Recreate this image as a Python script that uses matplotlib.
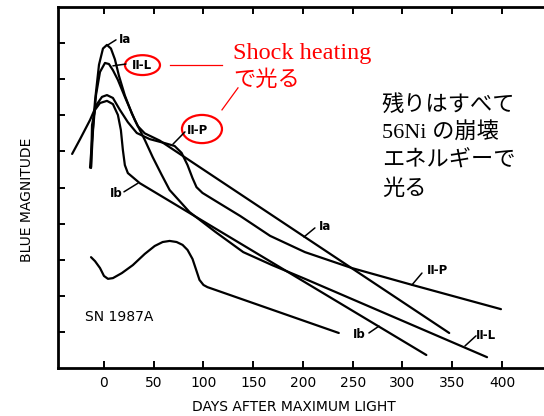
import matplotlib
matplotlib.use("Agg")
import matplotlib.pyplot as plt
from matplotlib.patches import Ellipse

# schematic blue light curves: days after maximum vs magnitude (1 mag per tick)
ia_days = [-14, -12, -9, -5, -1, 3, 7, 11, 15, 21, 28, 34, 41, 56, 347]
ia_mag = [4.45, 3.7, 2.6, 1.6, 1.15, 1.05, 1.15, 1.45, 1.9, 2.45, 2.95, 3.3, 3.5, 3.7, 9.03]

iil_days = [-13, -11, -8, -4, 1, 5, 9, 14, 21, 31, 41, 49, 58, 66, 86, 112, 140, 169, 202, 385]
iil_mag = [4.43, 3.41, 2.44, 1.8, 1.55, 1.58, 1.75, 2.02, 2.49, 3.13, 3.68, 4.16, 4.65, 5.07,
           5.68, 6.23, 6.79, 7.15, 7.53, 9.7]

ib_days = [-13, -12, -9, -4, 3, 9, 14, 17, 19, 21, 24, 30, 36, 324]
ib_mag = [4.46, 3.27, 2.85, 2.66, 2.6, 2.69, 2.99, 3.41, 3.96, 4.38, 4.6, 4.74, 4.88, 9.64]

iip_days = [-32, -24, -14, -7, -2, 3, 9, 16, 24, 33, 46, 61, 71, 78, 84, 89, 93, 99, 112,
            137, 167, 202, 249, 310, 399]
iip_mag = [4.07, 3.66, 3.13, 2.69, 2.49, 2.44, 2.52, 2.85, 3.19, 3.49, 3.66, 3.77, 3.85, 4.04,
           4.38, 4.74, 4.99, 5.15, 5.37, 5.79, 6.34, 6.79, 7.23, 7.7, 8.37]

sn87a_days = [-13, -9, -4, 0, 4, 9, 18, 29, 41, 51, 59, 66, 73, 79, 84, 89, 93, 96, 100, 104, 236]
sn87a_mag = [6.93, 7.04, 7.23, 7.45, 7.53, 7.51, 7.37, 7.15, 6.84, 6.62, 6.51, 6.48, 6.51, 6.59,
             6.73, 6.98, 7.31, 7.56, 7.7, 7.76, 9.03]

day_ticks = [0, 50, 100, 150, 200, 250, 300, 350, 400]
mag_ticks = [1, 2, 3, 4, 5, 6, 7, 8, 9]

fig = plt.figure(figsize=(5.44, 4.16), dpi=100)
ax = fig.add_axes([58 / 544, 48 / 416, 494 / 544, 361 / 416])

for d, m in [(ia_days, ia_mag), (iil_days, iil_mag), (ib_days, ib_mag),
             (iip_days, iip_mag), (sn87a_days, sn87a_mag)]:
    ax.plot(d, m, color="black", lw=1.6, solid_joinstyle="round", solid_capstyle="round")

ax.set_xlim(-46.2, 450.3)
ax.set_ylim(10, 0)
ax.set_xticks(day_ticks)
ax.set_xticklabels([str(t) for t in day_ticks], fontsize=10)
ax.set_yticks(mag_ticks)
ax.set_yticklabels([])
ax.tick_params(direction="in", length=5, width=1.4, top=True, labeltop=False, pad=6)
ax.spines["right"].set_visible(False)
for s in ["left", "bottom", "top"]:
    ax.spines[s].set_linewidth(2.0)

fig.text(294 / 544, 1 - 407 / 416, "DAYS AFTER MAXIMUM LIGHT", ha="center", va="center",
         fontsize=10)
fig.text(27 / 544, 1 - 200 / 416, "BLUE MAGNITUDE", ha="center", va="center",
         rotation=90, fontsize=10)

# curve labels with short leader lines
lead = dict(arrowstyle="-", color="black", lw=1.1, shrinkA=0, shrinkB=0)
labels = [
    ("Ia", (4.0, 1.05), (14.5, 0.91), "left"),
    ("Ⅱ-L", (9.0, 1.63), (38.2, 1.61), "center"),
    ("Ⅱ-P", (69.3, 3.8), (94.5, 3.41), "center"),
    ("Ib", (34.2, 4.88), (12.1, 5.18), "center"),
    ("Ia", (201, 6.37), (222, 6.07), "center"),
    ("Ⅱ-P", (309.5, 7.7), (335.7, 7.31), "center"),
    ("Ib", (276.4, 8.84), (256.3, 9.06), "center"),
    ("Ⅱ-L", (362.8, 9.39), (383.9, 9.09), "center"),
]
ends = [(12.1, 0.91), (22.1, 1.58), (81.4, 3.46), (20.1, 5.12),
        (212, 6.12), (319.6, 7.37), (266.3, 9.03), (373.9, 9.11)]
for (txt, xy, xt, ha), e in zip(labels, ends):
    ax.annotate("", xy=xy, xytext=e, arrowprops=lead)
    ax.text(xt[0], xt[1], txt, ha=ha, va="center", fontsize=8.5, fontweight="bold")

ax.text(15.1, 8.59, "SN 1987A", ha="center", va="center", fontsize=10)

# red annotation: shock heating circles
ax.add_patch(Ellipse((38.7, 1.61), 35.2, 0.55, fill=False, ec="red", lw=1.6))
ax.add_patch(Ellipse((98.5, 3.38), 40.2, 0.78, fill=False, ec="red", lw=1.6))
ax.plot([66.3, 118.6], [1.61, 1.61], color="red", lw=0.9)
ax.plot([118.6, 134.7], [2.85, 2.24], color="red", lw=0.9)

fam = ["Liberation Serif", "Noto Sans CJK JP"]
ax.text(129.6, 1.44, "Shock heating", color="red", fontsize=17.5, family=fam, va="baseline")
ax.text(129.6, 2.19, "で光る", color="red", fontsize=16, family=fam, va="baseline")

note = ["残りはすべて", "56Ni の崩壊", "エネルギーで", "光る"]
note_y = [2.88, 3.66, 4.43, 5.21]
for s, y in zip(note, note_y):
    ax.text(279.4, y, s, color="black", fontsize=16, family=fam, va="baseline")

fig.savefig("out.png", dpi=100)
